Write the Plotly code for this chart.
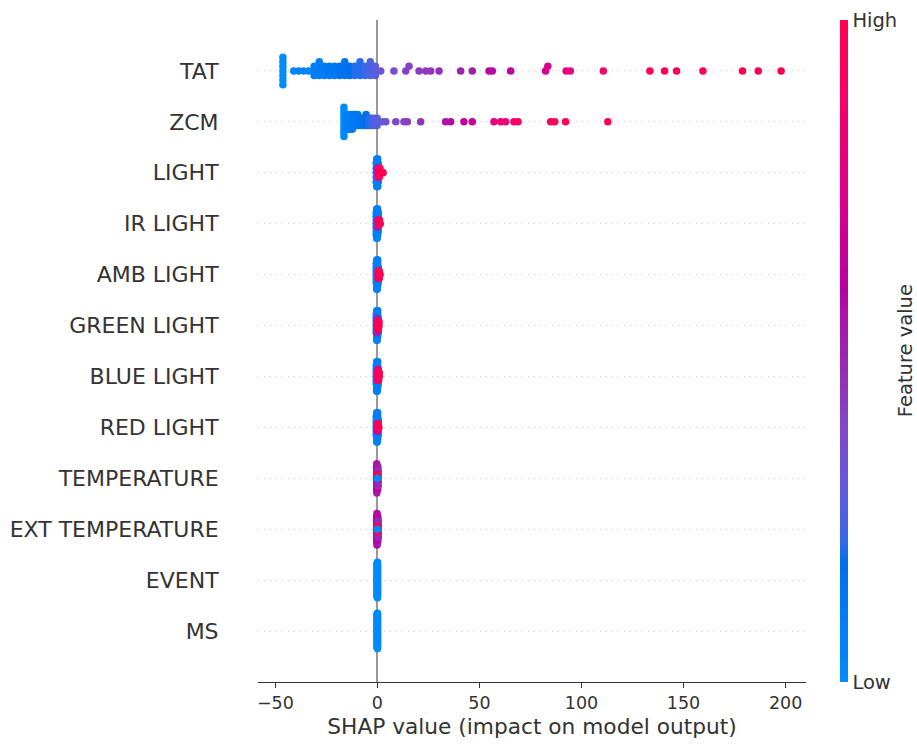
import numpy as np
import plotly.graph_objects as go

# Feature names, top row first
FEATURES = ["TAT", "ZCM", "LIGHT", "IR LIGHT", "AMB LIGHT", "GREEN LIGHT",
            "BLUE LIGHT", "RED LIGHT", "TEMPERATURE", "EXT TEMPERATURE",
            "EVENT", "MS"]

# Each entry: (SHAP value, normalised feature value 0..1, number of samples)
TAT = [
    (-46.3, 0.00, 7),
    (-41.0, 0.03, 1), (-38.6, 0.04, 1), (-36.2, 0.05, 1), (-33.8, 0.05, 1),
    (-31.0, 0.08, 3), (-28.5, 0.10, 4), (-26.0, 0.10, 3), (-23.5, 0.12, 3),
    (-21.0, 0.12, 3), (-18.5, 0.15, 3), (-16.0, 0.15, 4), (-13.5, 0.18, 3),
    (-11.0, 0.20, 3), (-8.5, 0.20, 4), (-6.0, 0.22, 3), (-3.5, 0.25, 4),
    (-1.0, 0.28, 3),
    (1.6, 0.32, 1), (8.1, 0.36, 1), (13.9, 0.40, 1), (15.5, 0.40, 1),
    (20.4, 0.42, 1), (23.7, 0.44, 1), (26.1, 0.45, 1), (30.2, 0.47, 1),
    (40.8, 0.50, 1), (46.5, 0.52, 1), (54.7, 0.58, 1), (56.3, 0.58, 1),
    (65.3, 0.62, 1), (82.4, 0.70, 1), (83.5, 0.72, 1), (92.5, 0.76, 1),
    (94.5, 0.80, 1), (110.7, 0.88, 1), (133.5, 0.95, 1), (140.7, 0.97, 1),
    (146.6, 0.97, 1), (159.5, 1.00, 1), (178.9, 1.00, 1), (186.6, 1.00, 1),
    (197.8, 1.00, 1),
]
ZCM = [
    (-16.4, 0.00, 9),
    (-15.0, 0.08, 5), (-13.65, 0.10, 5), (-12.3, 0.10, 5), (-10.95, 0.12, 4),
    (-9.6, 0.12, 4), (-8.25, 0.15, 3), (-6.9, 0.15, 3), (-5.55, 0.18, 4),
    (-4.2, 0.20, 3), (-2.85, 0.22, 3), (-1.5, 0.25, 3), (-0.15, 0.28, 3),
    (2.4, 0.30, 1), (4.1, 0.32, 1), (9.0, 0.38, 1), (13.0, 0.40, 1),
    (14.7, 0.42, 1), (21.2, 0.45, 1), (33.4, 0.55, 1), (35.9, 0.57, 1),
    (42.4, 0.62, 1), (46.5, 0.65, 1), (57.1, 0.80, 1), (60.4, 0.82, 1),
    (62.8, 0.85, 1), (66.9, 0.88, 1), (68.9, 0.90, 1), (84.9, 0.95, 1),
    (86.9, 0.95, 1), (92.2, 0.97, 1), (112.9, 1.00, 1),
]
LIGHT = [
    (-0.6, 0.02, 5), (-0.35, 0.04, 7), (-0.1, 0.06, 7), (0.15, 0.08, 7),
    (0.4, 0.10, 5), (-0.2, 0.45, 3), (0.3, 0.55, 2),
    (0.9, 0.90, 3), (1.2, 0.95, 2), (1.6, 1.00, 1), (2.0, 1.00, 1),
    (2.4, 1.00, 1), (2.8, 1.00, 1),
]
IR_LIGHT = [
    (-0.6, 0.02, 7), (-0.35, 0.04, 9), (-0.1, 0.06, 9), (0.15, 0.08, 8),
    (0.4, 0.10, 6), (0.0, 0.50, 3),
    (0.7, 0.90, 2), (1.0, 1.00, 2), (1.4, 1.00, 1),
]
AMB_LIGHT = [
    (-0.6, 0.02, 6), (-0.35, 0.04, 9), (-0.1, 0.06, 9), (0.15, 0.08, 8),
    (0.4, 0.10, 5), (0.25, 0.50, 3),
    (0.5, 0.95, 3), (0.9, 1.00, 3), (1.3, 1.00, 1),
]
GREEN_LIGHT = [
    (-0.6, 0.02, 6), (-0.35, 0.04, 9), (-0.1, 0.06, 9), (0.15, 0.08, 8),
    (0.4, 0.10, 5), (-0.25, 0.50, 5), (0.05, 0.75, 3),
    (0.45, 1.00, 3), (0.8, 1.00, 2),
]
BLUE_LIGHT = [
    (-0.6, 0.02, 6), (-0.35, 0.04, 9), (-0.1, 0.06, 9), (0.15, 0.08, 8),
    (0.4, 0.10, 5), (0.0, 0.60, 3), (0.25, 0.80, 4),
    (0.55, 0.95, 3), (0.9, 1.00, 2),
]
RED_LIGHT = [
    (-0.6, 0.02, 6), (-0.35, 0.04, 9), (-0.1, 0.06, 9), (0.15, 0.08, 8),
    (0.4, 0.10, 5), (-0.2, 0.55, 3), (0.05, 0.70, 3),
    (0.35, 1.00, 2), (0.7, 1.00, 1),
]
TEMPERATURE = [
    (-0.4, 0.50, 7), (-0.3, 0.55, 9), (-0.2, 0.52, 7), (-0.1, 0.58, 7),
    (0.0, 0.55, 7), (0.1, 0.60, 7), (0.2, 0.52, 6), (0.3, 0.48, 5),
    (0.05, 1.00, 2), (-0.05, 0.00, 1),
]
EXT_TEMPERATURE = [
    (-0.4, 0.52, 9), (-0.3, 0.55, 11), (-0.2, 0.58, 13), (-0.1, 0.55, 11),
    (0.0, 0.52, 11), (0.1, 0.58, 10), (0.2, 0.60, 9), (0.3, 0.48, 7),
    (0.05, 1.00, 3), (-0.05, 0.00, 1),
]
EVENT = [(0.0, 0.00, 86)]
MS = [(0.0, 0.00, 86)]

ROWS = [TAT, ZCM, LIGHT, IR_LIGHT, AMB_LIGHT, GREEN_LIGHT, BLUE_LIGHT,
        RED_LIGHT, TEMPERATURE, EXT_TEMPERATURE, EVENT, MS]

X_TICKS = [-50, 0, 50, 100, 150, 200]
X_TICK_TEXT = ["\u221250", "0", "50", "100", "150", "200"]


def expand(groups):
    shap = np.concatenate([np.full(n, v) for v, _, n in groups])
    feat = np.concatenate([np.full(n, f) for _, f, n in groups])
    return shap, feat


def swarm_offsets(values, row_height=0.4, nbins=100):
    """Bin the values and stack points of a bin alternately up/down."""
    values = np.asarray(values, float)
    span = values.max() - values.min()
    quant = np.round(nbins * (values - values.min()) / (span + 1e-8))
    order = np.argsort(quant, kind="stable")
    ys = np.zeros(len(values))
    layer, last_bin = 0, -1
    for i in order:
        if quant[i] != last_bin:
            layer = 0
        ys[i] = np.ceil(layer / 2) * ((layer % 2) * 2 - 1)
        layer += 1
        last_bin = quant[i]
    ys *= 0.9 * (row_height / np.max(ys + 1))
    return ys


def lch_to_rgb(l, c, h):
    a, b = c * np.cos(h), c * np.sin(h)
    fy = (l + 16) / 116
    fx, fz = fy + a / 500, fy - b / 200

    def finv(t):
        return t ** 3 if t > 6 / 29 else 3 * (6 / 29) ** 2 * (t - 4 / 29)

    xyz = np.array([0.95047 * finv(fx), finv(fy), 1.08883 * finv(fz)])
    m = np.array([[3.2406, -1.5372, -0.4986],
                  [-0.9689, 1.8758, 0.0415],
                  [0.0557, -0.2040, 1.0570]])
    lin = m @ xyz
    rgb = np.where(lin <= 0.0031308, 12.92 * lin,
                   1.055 * np.clip(lin, 0, None) ** (1 / 2.4) - 0.055)
    return np.clip(rgb, 0, 1)


def red_blue_scale(nsteps=100):
    blue_lch = [54.0, 70.0, 4.6588]
    red_lch = [54.0, 90.0, 0.35470565 + 2 * np.pi]
    l_mid = 40.0
    ls = list(np.linspace(blue_lch[0], l_mid, nsteps // 2)) + \
        list(np.linspace(l_mid, red_lch[0], nsteps // 2))
    cs = np.linspace(blue_lch[1], red_lch[1], nsteps)
    hs = np.linspace(blue_lch[2], red_lch[2], nsteps)
    scale = []
    for pos, l, c, h in zip(np.linspace(0, 1, nsteps), ls, cs, hs):
        r, g, b = (lch_to_rgb(l, c, h) * 255).round().astype(int)
        scale.append([float(pos), f"rgb({r},{g},{b})"])
    return scale


n_rows = len(FEATURES)
fig = go.Figure()
all_x = []
for idx, (name, groups) in enumerate(zip(FEATURES, ROWS)):
    pos = n_rows - 1 - idx
    sx, fv = expand(groups)
    all_x.append(sx)
    fig.add_trace(go.Scatter(
        x=sx, y=pos + swarm_offsets(sx), mode="markers", name=name,
        marker=dict(size=7.5, color=fv, coloraxis="coloraxis",
                    line=dict(width=0)),
        hoverinfo="skip",
    ))

all_x = np.concatenate(all_x)
pad = 0.05 * (all_x.max() - all_x.min())
x_range = [all_x.min() - pad, all_x.max() + pad]

fig.update_layout(
    width=917, height=745,
    margin=dict(l=258, r=111, t=20, b=63, autoexpand=False),
    plot_bgcolor="white", paper_bgcolor="white",
    showlegend=False,
    font=dict(family="DejaVu Sans", color="#333333"),
    coloraxis=dict(
        colorscale=red_blue_scale(), cmin=0, cmax=1,
        colorbar=dict(
            thickness=8, len=1, lenmode="fraction", y=0.5, yanchor="middle",
            x=1.062, xanchor="left", xpad=0, ypad=0, outlinewidth=0,
            tickvals=[0, 1], ticktext=["Low", "High"], ticks="",
            tickfont=dict(size=19.5, color="#333333"),
        ),
    ),
    annotations=[dict(
        text="Feature value", textangle=-90, showarrow=False,
        xref="paper", yref="paper", x=1.181, y=0.5,
        xanchor="center", yanchor="middle",
        font=dict(size=19.5, color="#333333"),
    )],
    xaxis=dict(
        range=x_range, showline=True, linecolor="#333333", linewidth=1,
        ticks="outside", ticklen=5, tickcolor="#333333", tickwidth=1,
        tickvals=X_TICKS, ticktext=X_TICK_TEXT,
        tickfont=dict(size=17.5, color="#333333"),
        showgrid=False, zeroline=True, zerolinecolor="#999999",
        zerolinewidth=1.6, automargin=False,
        title=dict(text="SHAP value (impact on model output)",
                   font=dict(size=21.7, color="#333333"), standoff=6),
    ),
    yaxis=dict(
        range=[-1, n_rows], tickvals=list(range(n_rows)),
        ticktext=FEATURES[::-1],
        showgrid=True, gridcolor="#cccccc", griddash="1px,5px", gridwidth=1,
        zeroline=False, showline=False, automargin=False,
        ticks="outside", ticklen=34, tickcolor="rgba(0,0,0,0)",
        tickfont=dict(size=22, color="#333333"),
    ),
)

fig.write_html("out.html")
